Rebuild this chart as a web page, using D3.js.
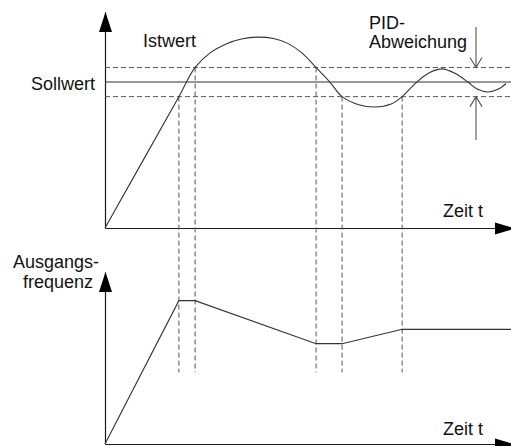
<!DOCTYPE html>
<html>
<head>
<meta charset="utf-8">
<script src="https://cdn.jsdelivr.net/npm/d3@7"></script>
<style>
  html, body { margin: 0; padding: 0; background: #fff; }
  svg { display: block; }
  text { font-family: "Liberation Sans", Arial, sans-serif; font-size: 18px; fill: #111; }
</style>
</head>
<body>
<svg id="chart" width="511" height="446"></svg>
<script>
// Istwert (process value) over time, relative to Sollwert = 1
const istTime  = [0, 18.2, 22.2, 25.9, 30.0, 33.6, 37.4, 41.5, 45.0, 48.5, 52.0, 55.4, 58.4, 62.5, 66.5, 70.5, 73.2, 76.8, 80.0, 83.0, 86.2, 89.4, 91.8, 94.3, 96.8, 98.8];
const istValue = [0, 0.9, 1.1, 1.2, 1.263, 1.295, 1.308, 1.298, 1.265, 1.2, 1.1, 1.0, 0.9, 0.845, 0.829, 0.85, 0.9, 1.0, 1.065, 1.09, 1.06, 1.0, 0.95, 0.932, 0.95, 0.99];

// Sollwert and PID deviation band
const sollwert = 1.0;
const bandUpper = 1.1;
const bandLower = 0.9;

// Ausgangsfrequenz (output frequency, Hz) over time
const freqTime  = [0, 18.2, 22.2, 52.0, 58.4, 73.2, 100];
const freqValue = [0, 50, 50, 35, 35, 40, 40];

// Times where Istwert leaves / enters the band, with the band edge crossed
const markTime = [18.2, 22.2, 52.0, 58.4, 73.2];
const markEdge = [bandLower, bandUpper, bandUpper, bandLower, bandLower];
const markFreqBottom = 25;

// Labels
const labelIst = "Istwert";
const labelSoll = "Sollwert";
const labelPid = ["PID-", "Abweichung"];
const labelFreq = ["Ausgangs-", "frequenz"];
const labelTime = "Zeit t";

const svg = d3.select("#chart");

const x = d3.scaleLinear().domain([0, 101]).range([105, 515]);
const yTop = d3.scaleLinear().domain([0, 1.48]).range([228, 12]);
const yBot = d3.scaleLinear().domain([0, 60]).range([444, 272]);

const axisColor = "#1a1a1a";
const lineColor = "#333";
const dashColor = "#555";
const dash = "5,3";

// --- axes (no ticks) with arrow heads
function drawAxes(yScale) {
  const gx = svg.append("g").attr("transform", `translate(0,${yScale(0)})`)
    .call(d3.axisBottom(x).tickValues([]).tickSizeOuter(0));
  gx.select(".domain").attr("stroke", axisColor).attr("stroke-width", 1.2);
  const gy = svg.append("g").attr("transform", `translate(${x(0)},0)`)
    .call(d3.axisLeft(yScale).tickValues([]).tickSizeOuter(0));
  gy.select(".domain").attr("stroke", axisColor).attr("stroke-width", 1.2);

  const y0 = yScale(0) + 0.5, x0 = x(0) + 0.5;
  const xTip = x.range()[1], yTip = yScale.range()[1];
  svg.append("path")
    .attr("d", `M${xTip},${y0}L${xTip - 20},${y0 - 6}L${xTip - 20},${y0 + 6}Z`)
    .attr("fill", "#000");
  svg.append("path")
    .attr("d", `M${x0},${yTip}L${x0 - 6.5},${yTip + 20}L${x0 + 6.5},${yTip + 20}Z`)
    .attr("fill", "#000");
}
drawAxes(yTop);
drawAxes(yBot);

// --- horizontal band lines and Sollwert
const xEnd = x(100);
[bandUpper, bandLower].forEach(v => {
  svg.append("line")
    .attr("x1", x(0)).attr("x2", xEnd)
    .attr("y1", yTop(v)).attr("y2", yTop(v))
    .attr("stroke", dashColor).attr("stroke-width", 1).attr("stroke-dasharray", dash);
});
svg.append("line")
  .attr("x1", x(0)).attr("x2", xEnd)
  .attr("y1", yTop(sollwert)).attr("y2", yTop(sollwert))
  .attr("stroke", lineColor).attr("stroke-width", 1.1);

// --- vertical dashed markers linking both plots
markTime.forEach((t, i) => {
  svg.append("line")
    .attr("x1", x(t)).attr("x2", x(t))
    .attr("y1", yTop(markEdge[i])).attr("y2", yBot(markFreqBottom))
    .attr("stroke", dashColor).attr("stroke-width", 1).attr("stroke-dasharray", dash);
});

// --- Istwert curve
const istData = istTime.map((t, i) => [t, istValue[i]]);
svg.append("path")
  .datum(istData)
  .attr("d", d3.line().x(d => x(d[0])).y(d => yTop(d[1])).curve(d3.curveCatmullRom.alpha(0.5)))
  .attr("fill", "none").attr("stroke", lineColor).attr("stroke-width", 1.1);

// --- Ausgangsfrequenz polyline
const freqData = freqTime.map((t, i) => [t, freqValue[i]]);
svg.append("path")
  .datum(freqData)
  .attr("d", d3.line().x(d => x(d[0])).y(d => yBot(d[1])))
  .attr("fill", "none").attr("stroke", lineColor).attr("stroke-width", 1.1);

// --- PID deviation arrows
const ax = 476;
const up = yTop(bandUpper), lo = yTop(bandLower);
svg.append("path")
  .attr("d", `M${ax},27V${up}M${ax - 6},${up - 10}L${ax},${up}L${ax + 6},${up - 10}`)
  .attr("fill", "none").attr("stroke", dashColor).attr("stroke-width", 1.1);
svg.append("path")
  .attr("d", `M${ax},140V${lo}M${ax - 6},${lo + 10}L${ax},${lo}L${ax + 6},${lo + 10}`)
  .attr("fill", "none").attr("stroke", dashColor).attr("stroke-width", 1.1);

// --- labels
svg.append("text").attr("x", 143).attr("y", 47).text(labelIst);
svg.append("text").attr("x", 95).attr("y", 90).attr("text-anchor", "end").text(labelSoll);
svg.append("text").attr("x", 369).attr("y", 29).text(labelPid[0]);
svg.append("text").attr("x", 369).attr("y", 48).text(labelPid[1]);
svg.append("text").attr("x", 443).attr("y", 217).text(labelTime);
svg.append("text").attr("x", 443).attr("y", 435).text(labelTime);
svg.append("text").attr("x", 13).attr("y", 268).text(labelFreq[0]);
svg.append("text").attr("x", 23).attr("y", 288).text(labelFreq[1]);
</script>
</body>
</html>
